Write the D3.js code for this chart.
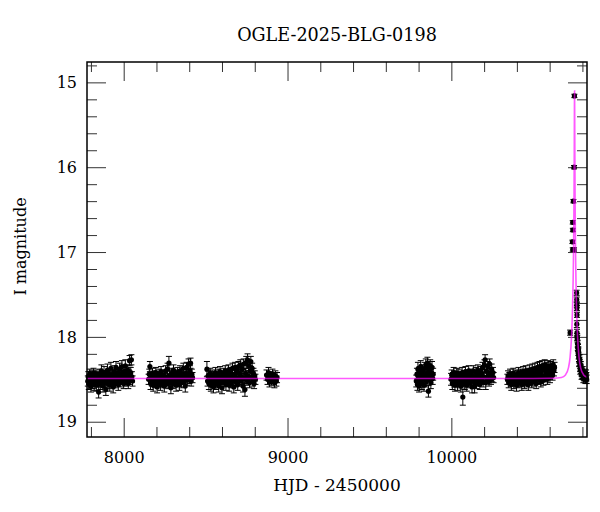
<!DOCTYPE html>
<html>
<head>
<meta charset="utf-8">
<script src="https://cdn.jsdelivr.net/npm/d3@7"></script>
<style>
  body { margin: 0; background: #fff; }
  text { font-family: "DejaVu Serif", serif; fill: #000; }
</style>
</head>
<body>
<div class="container"></div>
<script>
const width = 600;
const height = 512;
const margin = { top: 62, right: 13, bottom: 75, left: 87 };

// photometry, one array per observing season: [HJD - 2450000, I mag, error]
const season1 = [
  [7781,18.52,0.06],[7784,18.47,0.06],[7787,18.55,0.07],[7790,18.50,0.06],[7793,18.44,0.06],[7797,18.53,0.06],[7800,18.58,0.07],[7803,18.49,0.06],[7806,18.46,0.06],[7810,18.54,0.07],
  [7813,18.51,0.06],[7816,18.43,0.06],[7820,18.56,0.07],[7823,18.48,0.06],[7826,18.52,0.06],[7830,18.45,0.06],[7833,18.57,0.07],[7836,18.50,0.06],[7840,18.47,0.06],[7843,18.53,0.06],
  [7847,18.65,0.07],[7850,18.49,0.06],[7853,18.44,0.06],[7857,18.55,0.07],[7860,18.51,0.06],[7864,18.40,0.07],[7867,18.53,0.06],[7870,18.47,0.06],[7874,18.58,0.07],[7877,18.50,0.06],
  [7880,18.42,0.07],[7884,18.54,0.06],[7887,18.48,0.06],[7891,18.62,0.07],[7894,18.46,0.06],[7897,18.52,0.06],[7901,18.39,0.07],[7904,18.55,0.06],[7908,18.49,0.06],[7911,18.44,0.06],
  [7915,18.57,0.07],[7918,18.51,0.06],[7922,18.37,0.07],[7925,18.47,0.06],[7929,18.53,0.06],[7932,18.45,0.06],[7936,18.59,0.07],[7939,18.50,0.06],[7943,18.41,0.07],[7946,18.48,0.06],
  [7950,18.54,0.06],[7953,18.36,0.07],[7957,18.46,0.06],[7960,18.52,0.06],[7964,18.43,0.06],[7967,18.56,0.07],[7971,18.49,0.06],[7975,18.38,0.07],[7978,18.47,0.06],[7982,18.53,0.06],
  [7985,18.44,0.06],[7989,18.35,0.07],[7992,18.50,0.06],[7996,18.46,0.06],[8000,18.55,0.06],[8003,18.41,0.06],[8007,18.48,0.06],[8010,18.34,0.07],[8014,18.52,0.06],[8017,18.44,0.06],
  [8021,18.49,0.06],[8025,18.39,0.06],[8028,18.55,0.06],[8032,18.45,0.06],[8036,18.28,0.06],[8039,18.50,0.06],[8043,18.42,0.06],[8047,18.27,0.06],[8050,18.47,0.06],[8054,18.52,0.06]
];
const season2 = [
  [8152,18.50,0.06],[8156,18.44,0.06],[8160,18.35,0.06],[8164,18.55,0.07],[8168,18.48,0.06],[8172,18.52,0.06],[8176,18.43,0.06],[8180,18.57,0.07],[8184,18.49,0.06],[8188,18.46,0.06],
  [8192,18.54,0.06],[8196,18.42,0.06],[8200,18.51,0.06],[8204,18.59,0.07],[8208,18.47,0.06],[8212,18.53,0.06],[8216,18.44,0.06],[8220,18.50,0.06],[8224,18.56,0.07],[8228,18.41,0.06],
  [8232,18.49,0.06],[8236,18.54,0.06],[8240,18.45,0.06],[8244,18.52,0.06],[8248,18.58,0.07],[8252,18.47,0.06],[8256,18.40,0.06],[8260,18.53,0.06],[8264,18.49,0.06],[8268,18.38,0.07],
  [8272,18.55,0.06],[8276,18.31,0.08],[8280,18.46,0.06],[8284,18.51,0.06],[8288,18.60,0.07],[8292,18.43,0.06],[8296,18.50,0.06],[8300,18.55,0.06],[8304,18.39,0.06],[8308,18.48,0.06],
  [8312,18.53,0.06],[8316,18.45,0.06],[8320,18.57,0.07],[8324,18.49,0.06],[8328,18.42,0.06],[8332,18.52,0.06],[8336,18.46,0.06],[8340,18.56,0.07],[8344,18.40,0.06],[8348,18.50,0.06],
  [8352,18.54,0.06],[8356,18.44,0.06],[8360,18.49,0.06],[8364,18.37,0.06],[8368,18.53,0.06],[8372,18.47,0.06],[8376,18.58,0.07],[8380,18.43,0.06],[8384,18.36,0.06],[8388,18.51,0.06],
  [8392,18.45,0.06],[8396,18.32,0.06],[8400,18.49,0.06],[8404,18.40,0.06],[8408,18.31,0.06],[8412,18.52,0.06],[8416,18.44,0.06],[8420,18.48,0.06]
];
const season3 = [
  [8508,18.38,0.09],[8512,18.52,0.06],[8516,18.46,0.06],[8520,18.55,0.07],[8524,18.49,0.06],[8528,18.43,0.06],[8532,18.57,0.07],[8536,18.50,0.06],[8540,18.45,0.06],[8544,18.53,0.06],
  [8548,18.59,0.07],[8552,18.47,0.06],[8556,18.51,0.06],[8560,18.42,0.06],[8564,18.55,0.07],[8568,18.48,0.06],[8572,18.52,0.06],[8576,18.44,0.06],[8580,18.58,0.07],[8584,18.49,0.06],
  [8588,18.41,0.06],[8592,18.54,0.06],[8596,18.47,0.06],[8600,18.60,0.07],[8604,18.50,0.06],[8608,18.43,0.06],[8612,18.53,0.06],[8616,18.46,0.06],[8620,18.40,0.06],[8624,18.56,0.07],
  [8628,18.49,0.06],[8632,18.44,0.06],[8636,18.52,0.06],[8640,18.39,0.06],[8644,18.57,0.07],[8648,18.48,0.06],[8652,18.42,0.06],[8656,18.54,0.06],[8660,18.46,0.06],[8664,18.37,0.06],
  [8668,18.51,0.06],[8672,18.59,0.07],[8676,18.45,0.06],[8680,18.36,0.06],[8684,18.53,0.06],[8688,18.48,0.06],[8692,18.41,0.06],[8696,18.56,0.07],[8700,18.35,0.06],[8704,18.50,0.06],
  [8708,18.44,0.06],[8712,18.33,0.06],[8716,18.52,0.06],[8720,18.47,0.06],[8724,18.38,0.06],[8728,18.58,0.07],[8732,18.32,0.06],[8736,18.49,0.06],[8740,18.62,0.08],[8744,18.43,0.06],
  [8748,18.30,0.07],[8752,18.51,0.06],[8756,18.27,0.07],[8760,18.46,0.06],[8764,18.34,0.06],[8768,18.54,0.06],[8772,18.40,0.06],[8776,18.29,0.06],[8780,18.48,0.06],[8784,18.37,0.06],
  [8788,18.52,0.06],[8792,18.43,0.06],[8796,18.55,0.06],[8800,18.46,0.06],[8804,18.50,0.06]
];
const season4 = [
  [8872,18.45,0.06],[8878,18.50,0.06],[8884,18.42,0.06],[8890,18.53,0.06],[8896,18.47,0.06],[8902,18.51,0.06],
  [8908,18.44,0.06],[8914,18.49,0.06],[8920,18.54,0.06],[8926,18.46,0.06],[8932,18.52,0.06],[8936,18.48,0.06]
];
const season5 = [
  [9786,18.52,0.07],[9790,18.44,0.07],[9793,18.56,0.07],[9796,18.38,0.08],[9800,18.49,0.07],[9803,18.58,0.07],[9806,18.42,0.07],[9810,18.53,0.07],[9813,18.35,0.07],[9816,18.47,0.07],
  [9820,18.55,0.07],[9823,18.40,0.07],[9826,18.50,0.07],[9830,18.45,0.07],[9833,18.57,0.07],[9837,18.37,0.07],[9840,18.48,0.07],[9844,18.33,0.07],[9847,18.52,0.07],[9850,18.43,0.07],
  [9854,18.31,0.07],[9857,18.50,0.07],[9860,18.64,0.07],[9864,18.39,0.07],[9867,18.46,0.07],[9871,18.34,0.07],[9875,18.54,0.07],[9878,18.42,0.07],[9882,18.36,0.07],[9886,18.49,0.07],[9889,18.44,0.07]
];
const season6 = [
  [9998,18.50,0.07],[10002,18.45,0.06],[10006,18.55,0.07],[10010,18.48,0.06],[10014,18.42,0.06],[10018,18.53,0.06],[10022,18.57,0.07],[10026,18.46,0.06],[10030,18.51,0.06],[10034,18.43,0.06],
  [10038,18.56,0.07],[10042,18.49,0.06],[10046,18.44,0.06],[10050,18.54,0.06],[10054,18.47,0.06],[10058,18.58,0.07],[10062,18.50,0.06],[10066,18.42,0.06],[10070,18.71,0.095],[10074,18.53,0.06],
  [10078,18.46,0.06],[10082,18.55,0.07],[10086,18.41,0.06],[10090,18.49,0.06],[10094,18.57,0.07],[10098,18.45,0.06],[10102,18.52,0.06],[10106,18.40,0.06],[10110,18.48,0.06],[10114,18.54,0.06],
  [10118,18.44,0.06],[10122,18.51,0.06],[10126,18.59,0.07],[10130,18.46,0.06],[10134,18.40,0.06],[10138,18.53,0.06],[10142,18.58,0.08],[10146,18.47,0.06],[10150,18.42,0.06],[10154,18.55,0.06],
  [10158,18.49,0.06],[10162,18.39,0.06],[10166,18.52,0.06],[10170,18.45,0.06],[10174,18.56,0.06],[10178,18.41,0.06],[10182,18.50,0.06],[10186,18.44,0.06],[10190,18.36,0.06],[10194,18.53,0.06],
  [10198,18.47,0.06],[10202,18.33,0.06],[10206,18.27,0.06],[10210,18.54,0.08],[10214,18.40,0.06],[10218,18.49,0.06],[10222,18.35,0.06],[10226,18.46,0.06],[10230,18.52,0.06],[10234,18.32,0.06],
  [10238,18.43,0.06],[10242,18.50,0.06],[10246,18.38,0.06],[10250,18.47,0.06],[10254,18.42,0.06],[10258,18.48,0.06]
];
const season7 = [
  [10342,18.50,0.06],[10346,18.46,0.06],[10350,18.54,0.06],[10354,18.48,0.06],[10358,18.44,0.06],[10362,18.52,0.06],[10366,18.56,0.07],[10370,18.47,0.06],[10374,18.51,0.06],[10378,18.43,0.06],
  [10382,18.55,0.06],[10386,18.49,0.06],[10390,18.45,0.06],[10394,18.53,0.06],[10398,18.57,0.07],[10402,18.46,0.06],[10406,18.50,0.06],[10410,18.42,0.06],[10414,18.54,0.06],[10418,18.48,0.06],
  [10422,18.44,0.06],[10426,18.52,0.06],[10430,18.56,0.07],[10434,18.45,0.06],[10438,18.41,0.06],[10442,18.50,0.06],[10446,18.55,0.06],[10450,18.47,0.06],[10454,18.40,0.06],[10458,18.53,0.06],
  [10462,18.49,0.06],[10466,18.43,0.06],[10470,18.56,0.07],[10474,18.46,0.06],[10478,18.39,0.06],[10482,18.51,0.06],[10486,18.45,0.06],[10490,18.54,0.06],[10494,18.38,0.06],[10498,18.48,0.06],
  [10502,18.43,0.06],[10506,18.52,0.06],[10510,18.37,0.06],[10514,18.47,0.06],[10518,18.55,0.06],[10522,18.41,0.06],[10526,18.36,0.06],[10530,18.50,0.06],[10534,18.44,0.06],[10538,18.35,0.06],
  [10542,18.49,0.06],[10546,18.53,0.06],[10550,18.40,0.06],[10554,18.34,0.06],[10558,18.46,0.06],[10562,18.51,0.06],[10566,18.38,0.06],[10570,18.33,0.06],[10574,18.47,0.06],[10578,18.42,0.06],
  [10582,18.36,0.06],[10586,18.50,0.06],[10590,18.34,0.06],[10594,18.44,0.06],[10598,18.39,0.06],[10602,18.48,0.06],[10606,18.35,0.06],[10610,18.42,0.06],[10614,18.37,0.06],[10618,18.45,0.06],
  [10622,18.33,0.06],[10626,18.40,0.06],[10630,18.36,0.06]
];
const season8 = [
  [10725,17.95,0.03],[10739,16.88,0.02],[10741,16.65,0.02],[10741.5,16.74,0.02],[10741,16.97,0.02],[10745,16.40,0.02],
  [10749,16.97,0.02],[10749,16.00,0.02],[10751,15.16,0.02],
  [10765,17.48,0.03],[10765.5,17.56,0.03],[10766,17.62,0.03],[10766.5,17.66,0.03],[10767,17.74,0.03],
  [10766,17.85,0.04],[10767,17.95,0.04],[10768,18.00,0.04],[10769,18.02,0.04],[10771,18.08,0.04],[10772,18.12,0.04],[10773,18.13,0.04],
  [10775,18.18,0.04],[10776,18.16,0.04],[10777,18.22,0.04],[10779,18.25,0.04],[10780,18.30,0.05],[10782,18.29,0.05],[10783,18.26,0.05],
  [10785,18.32,0.05],[10787,18.39,0.05],[10788,18.36,0.05],[10790,18.34,0.05],[10791,18.38,0.05],[10794,18.41,0.05],[10795,18.45,0.05],
  [10797,18.42,0.05],[10800,18.44,0.05],[10802,18.40,0.05],[10804,18.45,0.05],[10806,18.49,0.05],[10808,18.46,0.05],[10812,18.47,0.05],
  [10814,18.43,0.05],[10816,18.46,0.05],[10818,18.50,0.05],[10820,18.48,0.05],[10822,18.44,0.05],[10824,18.47,0.05],[10826,18.50,0.05]
];

// microlensing model curve
const modelHjd = [7770, 10500, 10619, 10672, 10696.6, 10715.1, 10724.3, 10733.5, 10739.7, 10743.4, 10745.85,
  10747.69, 10748.92, 10750.15, 10750.77, 10751.38, 10752, 10752.62, 10753.23, 10753.85, 10755.08, 10756.31,
  10758.15, 10760.6, 10764.3, 10770.5, 10779.7, 10788.9, 10807.4, 10832];
const modelMag = [18.49, 18.49, 18.488, 18.478, 18.448, 18.362, 18.248, 18.000, 17.669, 17.335, 17.001,
  16.643, 16.312, 15.856, 15.563, 15.256, 15.098, 15.256, 15.563, 15.856, 16.312, 16.643,
  17.001, 17.335, 17.669, 18.000, 18.248, 18.362, 18.448, 18.478];

const xDomain = [7776, 10828];
const yDomain = [14.76, 19.18];
const xMajor = [8000, 9000, 10000];
const xMinor = [7800, 8200, 8400, 8600, 8800, 9200, 9400, 9600, 9800, 10200, 10400, 10600, 10800];
const yMajor = [15, 16, 17, 18, 19];
const yMinor = [14.8, 15.2, 15.4, 15.6, 15.8, 16.2, 16.4, 16.6, 16.8, 17.2, 17.4, 17.6, 17.8, 18.2, 18.4, 18.6, 18.8];

const titulo = 'OGLE-2025-BLG-0198';

const svg = d3.select('.container')
  .append('svg')
  .attr('width', width)
  .attr('height', height);

const x = d3.scaleLinear().domain(xDomain).range([margin.left, width - margin.right]);
const y = d3.scaleLinear().domain(yDomain).range([margin.top, height - margin.bottom]);

const plotW = width - margin.left - margin.right;
const plotH = height - margin.top - margin.bottom;

svg.append('defs').append('clipPath')
  .attr('id', 'clip')
  .append('rect')
  .attr('x', margin.left)
  .attr('y', margin.top)
  .attr('width', plotW)
  .attr('height', plotH);

// eixos: ticks para dentro nos quatro lados
function eixo(axisFn, ticks, size, pos, labels) {
  const a = axisFn.tickValues(ticks).tickSizeInner(-size).tickSizeOuter(0);
  if (labels) a.tickFormat(d3.format('d')).tickPadding(labels);
  else a.tickFormat('');
  const g = svg.append('g').attr('transform', pos).call(a);
  g.select('.domain').remove();
  g.selectAll('.tick line').attr('stroke', '#333').attr('stroke-width', 1);
  g.selectAll('.tick text').attr('font-size', 16).attr('font-family', 'DejaVu Serif');
  return g;
}

const yBottom = height - margin.bottom;
const xRight = width - margin.right;
eixo(d3.axisBottom(x), xMajor, 19, `translate(0,${yBottom})`, 14.5);
eixo(d3.axisBottom(x), xMinor, 10, `translate(0,${yBottom})`, null);
eixo(d3.axisTop(x), xMajor, 19, `translate(0,${margin.top})`, null);
eixo(d3.axisTop(x), xMinor, 10, `translate(0,${margin.top})`, null);
eixo(d3.axisLeft(y), yMajor, 19, `translate(${margin.left},0)`, 10);
eixo(d3.axisLeft(y), yMinor, 10, `translate(${margin.left},0)`, null);
eixo(d3.axisRight(y), yMajor, 19, `translate(${xRight},0)`, null);
eixo(d3.axisRight(y), yMinor, 10, `translate(${xRight},0)`, null);

// dados
const pontos = [].concat(season1, season2, season3, season4, season5, season6, season7, season8);
const camada = svg.append('g').attr('class', 'dados');

const barras = camada.selectAll('.erro')
  .data(pontos)
  .enter()
  .append('g')
  .attr('class', 'erro')
  .attr('stroke', '#000')
  .attr('stroke-width', 1);

barras.append('line')
  .attr('x1', d => x(d[0])).attr('x2', d => x(d[0]))
  .attr('y1', d => y(d[1] - d[2])).attr('y2', d => y(d[1] + d[2]));
barras.append('line')
  .attr('x1', d => x(d[0]) - 3).attr('x2', d => x(d[0]) + 3)
  .attr('y1', d => y(d[1] - d[2])).attr('y2', d => y(d[1] - d[2]));
barras.append('line')
  .attr('x1', d => x(d[0]) - 3).attr('x2', d => x(d[0]) + 3)
  .attr('y1', d => y(d[1] + d[2])).attr('y2', d => y(d[1] + d[2]));

camada.selectAll('circle')
  .data(pontos)
  .enter()
  .append('circle')
  .attr('cx', d => x(d[0]))
  .attr('cy', d => y(d[1]))
  .attr('r', 2.6)
  .attr('fill', '#000');

// modelo (meio transparente, fica escuro sobre os pontos)
const linha = d3.line()
  .x(d => x(d[0]))
  .y(d => y(d[1]))
  .curve(d3.curveMonotoneX);

svg.append('path')
  .datum(d3.zip(modelHjd, modelMag))
  .attr('clip-path', 'url(#clip)')
  .attr('d', linha)
  .attr('fill', 'none')
  .attr('stroke', '#ff00ff')
  .attr('stroke-opacity', 0.65)
  .attr('stroke-width', 1.6);

// moldura
svg.append('rect')
  .attr('x', margin.left)
  .attr('y', margin.top)
  .attr('width', plotW)
  .attr('height', plotH)
  .attr('fill', 'none')
  .attr('stroke', '#000')
  .attr('stroke-width', 1.5);

// textos
svg.append('text')
  .attr('x', margin.left + plotW / 2)
  .attr('y', 41)
  .attr('text-anchor', 'middle')
  .attr('font-size', 17.6)
  .text(titulo);

svg.append('text')
  .attr('x', margin.left + plotW / 2)
  .attr('y', 491)
  .attr('text-anchor', 'middle')
  .attr('font-size', 17)
  .text('HJD - 2450000');

svg.append('text')
  .attr('transform', `translate(25.5,${margin.top + plotH / 2 - 3}) rotate(-90)`)
  .attr('text-anchor', 'middle')
  .attr('font-size', 16)
  .text('I magnitude');
</script>
</body>
</html>
